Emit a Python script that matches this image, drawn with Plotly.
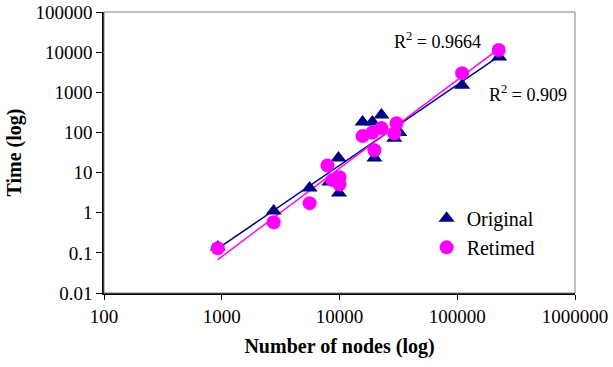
import numpy as np
import plotly.graph_objects as go

# Data
orig_nodes = [925, 2760, 5570, 8200, 9800, 9900, 15700, 19000, 19800, 22700, 29200, 32200, 110000, 227000]
orig_time = [0.14, 1.1, 4.1, 5.8, 23, 3.1, 181, 181, 23, 270, 72, 100, 1500, 7560]

ret_nodes = [925, 2760, 5570, 7900, 8700, 10000, 10000, 15700, 19000, 22700, 19800, 29200, 30500, 110000, 225000]
ret_time = [0.13, 0.58, 1.73, 15, 6.5, 7.7, 5.1, 81, 100, 128, 36, 95, 170, 3000, 11300]

y_ticks = [0.01, 0.1, 1, 10, 100, 1000, 10000, 100000]
y_tick_labels = ["0.01", "0.1", "1", "10", "100", "1000", "10000", "100000"]
x_ticks = [100, 1000, 10000, 100000, 1000000]
x_tick_labels = ["100", "1000", "10000", "100000", "1000000"]

r2_labels = ["R<sup>2</sup> = 0.9664", "R<sup>2</sup> = 0.909"]

NAVY = "#000080"
MAG = "#FF00FF"
FONT = "Liberation Serif, Times New Roman, serif"


def power_fit(xs, ys):
    lx, ly = np.log10(xs), np.log10(ys)
    b, a = np.polyfit(lx, ly, 1)
    xx = np.array([min(xs), max(xs)])
    return xx, 10 ** (a + b * np.log10(xx))


fig = go.Figure()

ox, oy = power_fit(orig_nodes, orig_time)
rx, ry = power_fit(ret_nodes, ret_time)
fig.add_trace(go.Scatter(x=ox, y=oy, mode="lines", line=dict(color=NAVY, width=1.5), showlegend=False))
fig.add_trace(go.Scatter(x=rx, y=ry, mode="lines", line=dict(color=MAG, width=1.5), showlegend=False))

fig.add_trace(go.Scatter(x=orig_nodes, y=orig_time, mode="markers", name="Original",
                         marker=dict(symbol="triangle-up", size=14, color=NAVY)))
fig.add_trace(go.Scatter(x=ret_nodes, y=ret_time, mode="markers", name="Retimed",
                         marker=dict(symbol="circle", size=14, color=MAG)))

fig.add_annotation(x=np.log10(28000), y=np.log10(20000), xref="x", yref="y", text=r2_labels[0],
                   showarrow=False, xanchor="left", yanchor="middle",
                   font=dict(family=FONT, size=18, color="black"))
fig.add_annotation(x=np.log10(180000), y=np.log10(950), xref="x", yref="y", text=r2_labels[1],
                   showarrow=False, xanchor="left", yanchor="middle",
                   font=dict(family=FONT, size=18, color="black"))

fig.add_shape(type="rect", xref="paper", yref="paper", x0=0, y0=0, x1=1, y1=1,
              line=dict(color="#808080", width=1))

fig.update_layout(
    width=613, height=367,
    margin=dict(l=104, r=38, t=12, b=74),
    plot_bgcolor="white", paper_bgcolor="white",
    font=dict(family=FONT, size=19, color="black"),
    legend=dict(x=0.685, y=0.335, xanchor="left", yanchor="top", bgcolor="rgba(0,0,0,0)",
                font=dict(family=FONT, size=20, color="black"), itemwidth=30, tracegroupgap=0),
)
fig.update_xaxes(type="log", range=[2, 6], tickvals=x_ticks, ticktext=x_tick_labels,
                 automargin=False, tickfont=dict(family=FONT, size=19, color="black"),
                 showgrid=False, zeroline=False, showline=True, linecolor="black", linewidth=1.5,
                 ticks="outside", ticklen=5, tickcolor="black",
                 title=dict(text="<b>Number of nodes (log)</b>", font=dict(family=FONT, size=20, color="black"), standoff=13))
fig.update_yaxes(type="log", range=[-2, 5], tickvals=y_ticks, ticktext=y_tick_labels,
                 automargin=False, tickfont=dict(family=FONT, size=19, color="black"),
                 showgrid=False, zeroline=False, showline=True, linecolor="black", linewidth=1.5,
                 ticks="outside", ticklen=6, tickcolor="black",
                 title=dict(text="<b>Time (log)</b>", font=dict(family=FONT, size=20, color="black"), standoff=8))

fig.write_html("out.html", config={"displayModeBar": False},
               post_script="document.body.style.margin='0';")
